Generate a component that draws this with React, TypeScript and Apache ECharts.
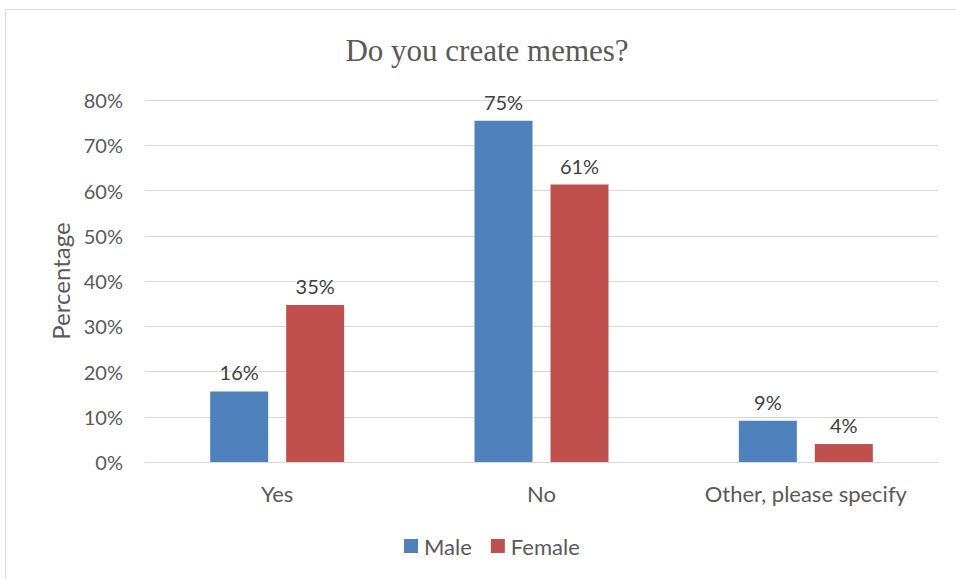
import React, { useEffect, useRef } from "react";
import * as echarts from "echarts";

const categories = ["Yes", "No", "Other, please specify"];
const maleValues = [15.6, 75.4, 9.1];
const femaleValues = [34.7, 61.3, 4.0];
const yTicks = [0, 10, 20, 30, 40, 50, 60, 70, 80];

const FONT = "Lato, 'Liberation Sans', sans-serif";

export default function App() {
  const ref = useRef<HTMLDivElement>(null);
  useEffect(() => {
    if (!ref.current) return;
    const chart = echarts.init(ref.current, undefined, { renderer: "svg" });
    const labelCfg = {
      show: true,
      position: "top" as const,
      distance: 9,
      color: "#404040",
      fontSize: 20,
      fontFamily: FONT,
      formatter: (p: any) => Math.round(p.value) + "%",
    };
    chart.setOption({
      animation: false,
      backgroundColor: "#ffffff",
      graphic: [
        {
          type: "rect",
          shape: { x: 5.5, y: 9.5, width: 1000, height: 700 },
          style: { fill: "none", stroke: "#d9d9d9", lineWidth: 1 },
          silent: true,
        },
        {
          type: "text",
          x: 487,
          y: 50,
          style: {
            text: "Do you create memes?",
            fill: "#595959",
            fontSize: 31,
            fontFamily: "'Liberation Serif', 'DejaVu Serif', serif",
            align: "center",
            verticalAlign: "middle",
          },
        },
      ],
      grid: { left: 145, right: 18, top: 100, bottom: 117, containLabel: false },
      legend: {
        data: ["Male", "Female"],
        bottom: 17,
        left: 399,
        itemWidth: 14,
        itemHeight: 14,
        itemGap: 19,
        icon: "rect",
        textStyle: { color: "#595959", fontSize: 22, fontFamily: FONT, padding: [0, 0, 0, 1] },
      },
      xAxis: {
        type: "category",
        data: categories,
        axisLine: { show: true, lineStyle: { color: "#d9d9d9", width: 1 } },
        axisTick: { show: false },
        axisLabel: { color: "#595959", fontSize: 22, fontFamily: FONT, margin: 20 },
      },
      yAxis: {
        type: "value",
        min: yTicks[0],
        max: yTicks[yTicks.length - 1],
        interval: 10,
        name: "Percentage",
        nameLocation: "middle",
        nameGap: 72,
        nameRotate: 90,
        nameTextStyle: { color: "#595959", fontSize: 24, fontFamily: FONT },
        axisLine: { show: false },
        axisTick: { show: false },
        axisLabel: {
          color: "#595959",
          fontSize: 20,
          fontFamily: FONT,
          margin: 22,
          formatter: (v: number) => v + "%",
        },
        splitLine: { lineStyle: { color: "#d9d9d9", width: 1 } },
      },
      series: [
        {
          name: "Male",
          type: "bar",
          data: maleValues,
          barWidth: 58,
          barGap: "31%",
          itemStyle: { color: "#4f81bd" },
          label: labelCfg,
        },
        {
          name: "Female",
          type: "bar",
          data: femaleValues,
          barWidth: 58,
          itemStyle: { color: "#c0504d" },
          label: labelCfg,
        },
      ],
    });
    return () => chart.dispose();
  }, []);
  return (
    <div
      ref={ref}
      style={{ position: "fixed", left: 0, top: 0, width: 956, height: 579, background: "#fff" }}
    />
  );
}
